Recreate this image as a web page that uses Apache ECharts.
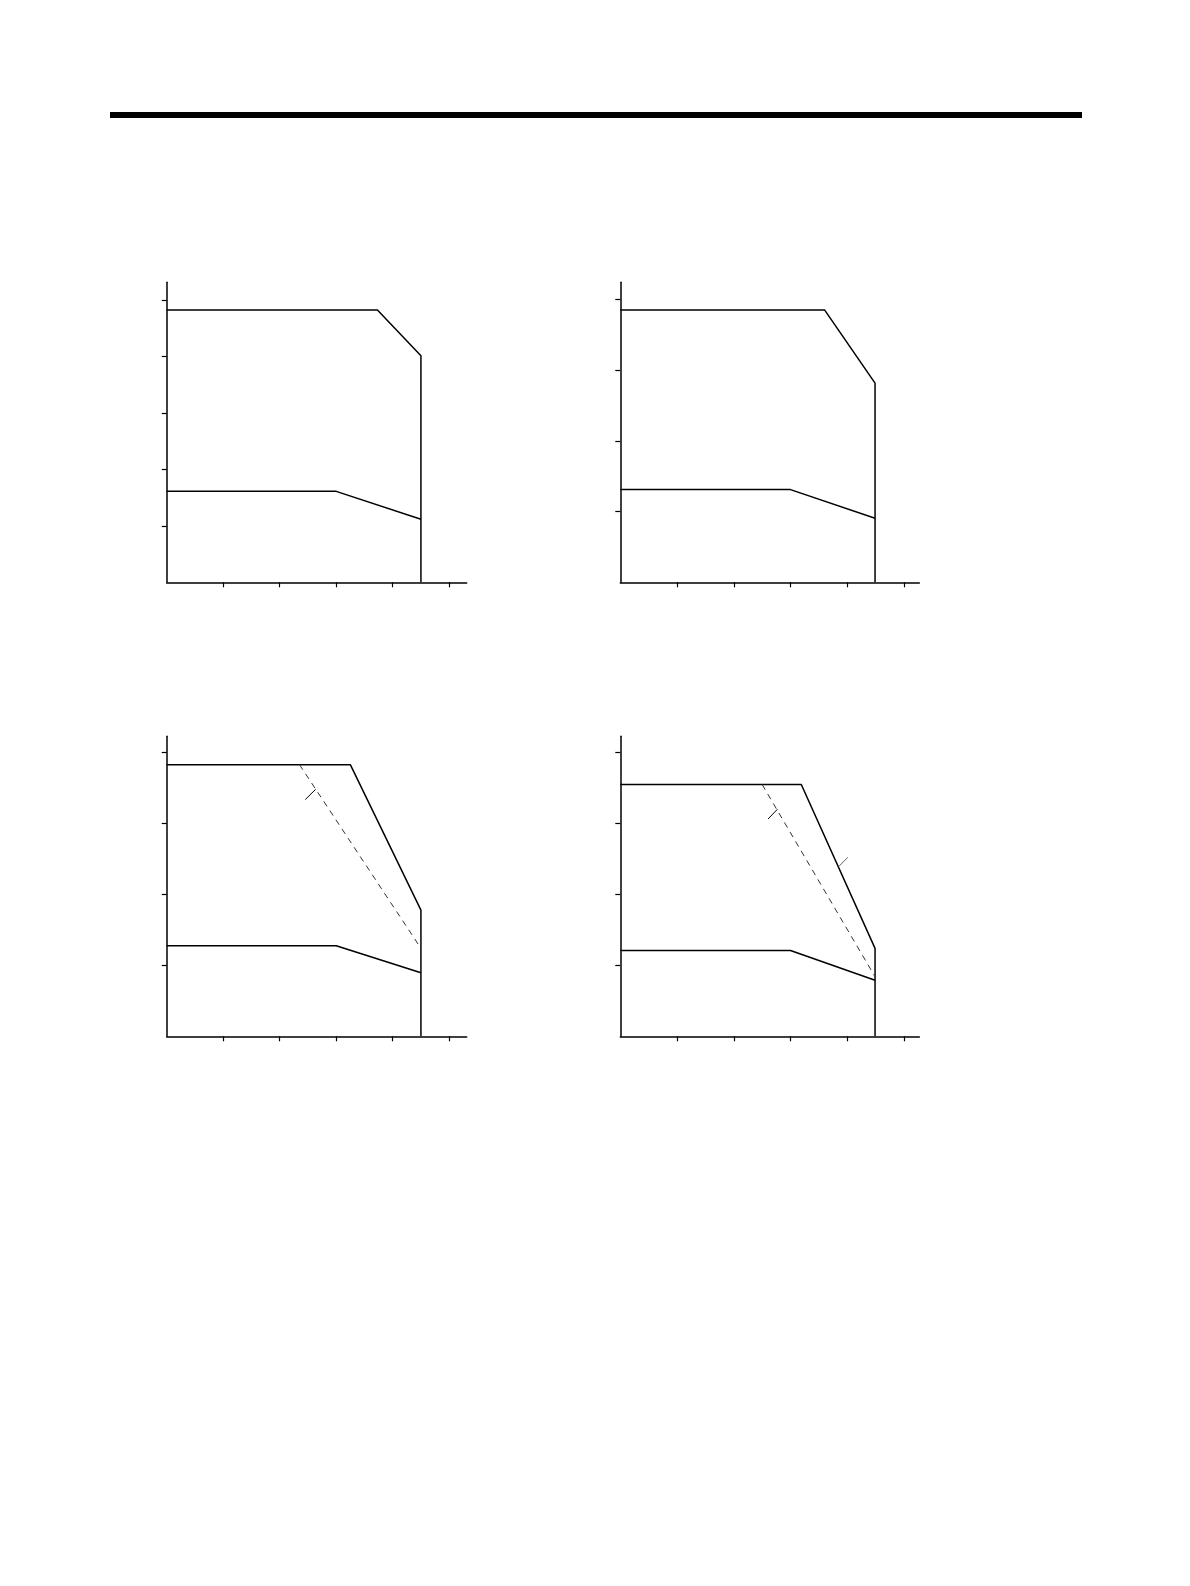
<!DOCTYPE html>
<html>
<head>
<meta charset="utf-8">
<style>
html,body{margin:0;padding:0;background:#fff;}
#chart{width:1190px;height:1586px;}
</style>
<script src="https://cdn.jsdelivr.net/npm/echarts@6/dist/echarts.min.js"></script>
</head>
<body>
<div id="chart"></div>
<script>
// Chart 1 (top-left)
const c1Upper = [[0, 4.82], [3.73, 4.82], [4.5, 4.01], [4.5, 0]];
const c1Lower = [[0, 1.61], [3.0, 1.61], [4.5, 1.115]];
// Chart 2 (top-right)
const c2Upper = [[0, 3.85], [3.6, 3.85], [4.49, 2.815], [4.49, 0]];
const c2Lower = [[0, 1.31], [3.0, 1.31], [4.49, 0.905]];
// Chart 3 (bottom-left)
const c3Upper = [[0, 3.83], [3.25, 3.83], [4.5, 1.78], [4.5, 0]];
const c3Dashed = [[2.35, 3.83], [4.5, 1.24]];
const c3Leader = [[2.453, 3.338], [2.637, 3.483]];
const c3Lower = [[0, 1.276], [3.0, 1.276], [4.5, 0.896]];
// Chart 4 (bottom-right)
const c4Upper = [[0, 3.55], [3.19, 3.55], [4.49, 1.24], [4.49, 0]];
const c4Dashed = [[2.5, 3.55], [4.49, 0.84]];
const c4Leader1 = [[2.605, 3.065], [2.769, 3.201]];
const c4Leader2 = [[3.857, 2.399], [4.011, 2.525]];
const c4Lower = [[0, 1.21], [3.0, 1.21], [4.49, 0.79]];

const xTicks = [1, 2, 3, 4, 5];
const yTicks5 = [1, 2, 3, 4, 5];
const yTicks4 = [1, 2, 3, 4];

const chart = echarts.init(document.getElementById('chart'), null, {renderer: 'canvas'});

const grids = [
  {left: 166.7, top: 282.3, width: 300, height: 300},
  {left: 620.3, top: 282.3, width: 299, height: 300},
  {left: 166.7, top: 736.3, width: 300, height: 300},
  {left: 620.3, top: 736.3, width: 299, height: 300}
];
const yMax = [5.31, 4.24, 4.23, 4.23];
const xMax = [5.31, 5.27, 5.31, 5.27];
const yTickSets = [yTicks5, yTicks4, yTicks4, yTicks4];

const axisLineStyle = {color: '#000', width: 1.5};

const xAxes = grids.map((g, i) => ({
  type: 'value', gridIndex: i, min: 0, max: xMax[i],
  axisLine: {show: true, onZero: false, lineStyle: axisLineStyle},
  axisTick: {show: true, customValues: xTicks, length: 5, inside: false, lineStyle: {color: '#000', width: 1.2}},
  axisLabel: {show: false},
  splitLine: {show: false}
}));
const yAxes = grids.map((g, i) => ({
  type: 'value', gridIndex: i, min: 0, max: yMax[i],
  axisLine: {show: true, onZero: false, lineStyle: axisLineStyle},
  axisTick: {show: true, customValues: yTickSets[i], length: 5, inside: false, lineStyle: {color: '#000', width: 1.2}},
  axisLabel: {show: false},
  splitLine: {show: false}
}));

function line(data, idx, opts) {
  opts = opts || {};
  return {
    type: 'line', xAxisIndex: idx, yAxisIndex: idx, data: data,
    symbol: 'none', silent: true, animation: false,
    lineStyle: {color: opts.color || '#000', width: opts.width || 1.5, type: opts.type || 'solid'}
  };
}

const series = [
  line(c1Upper, 0), line(c1Lower, 0),
  line(c2Upper, 1), line(c2Lower, 1),
  line(c3Upper, 2), line(c3Lower, 2),
  line(c3Dashed, 2, {width: 1, type: [6, 5], color: '#333'}),
  line(c3Leader, 2, {width: 1}),
  line(c4Upper, 3), line(c4Lower, 3),
  line(c4Dashed, 3, {width: 1, type: [6, 5], color: '#333'}),
  line(c4Leader1, 3, {width: 1}),
  line(c4Leader2, 3, {width: 1, color: '#666'})
];

chart.setOption({
  animation: false,
  backgroundColor: '#fff',
  grid: grids,
  xAxis: xAxes,
  yAxis: yAxes,
  series: series,
  graphic: [{
    type: 'rect', left: 110, top: 112, shape: {width: 972, height: 6},
    style: {fill: '#000'}
  }]
});
</script>
</body>
</html>
